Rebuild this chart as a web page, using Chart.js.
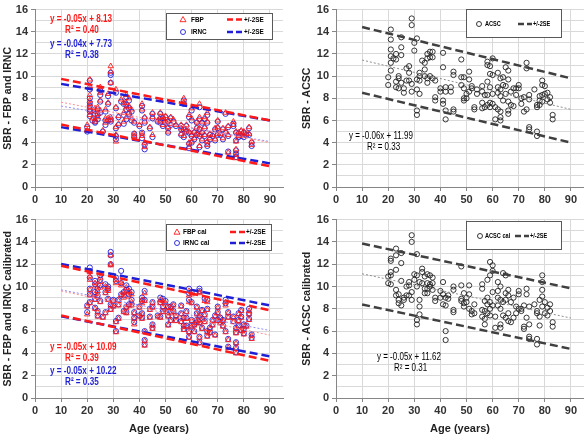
<!DOCTYPE html>
<html>
<head>
<meta charset="utf-8">
<script src="https://cdn.jsdelivr.net/npm/chart.js@4.4.1/dist/chart.umd.min.js"></script>
<style>
  html, body { margin: 0; padding: 0; background: #fff; overflow: hidden; }
  #wrap { position: relative; width: 584px; height: 435px; }
  canvas { position: absolute; }
</style>
</head>
<body>
<div id="wrap">
  <canvas id="tl" width="292" height="210" style="left:0;top:0"></canvas>
  <canvas id="tr" width="292" height="210" style="left:292px;top:0"></canvas>
  <canvas id="bl" width="292" height="226" style="left:0;top:210px"></canvas>
  <canvas id="br" width="292" height="226" style="left:292px;top:210px"></canvas>
</div>
<script>
// ---- data ----
const fitX = [10, 90];

// top left: raw FBP and IRNC
const tlAges = [
  20,20,21,21,21,21,21,21,21,21,22,23,23,23,23,24,24,24,25,25,25,25,26,27,27,27,28,28,28,29,29,29,29,29,
  31,31,31,31,31,32,32,33,34,34,34,35,35,35,35,36,36,36,37,37,38,38,38,
  40,41,41,41,41,42,42,42,42,44,45,45,45,47,48,48,48,49,49,49,
  50,50,51,51,51,52,52,53,54,56,56,56,57,57,57,57,58,58,59,59,59,59,
  60,60,60,60,61,61,62,62,62,63,63,63,63,63,64,64,64,65,65,65,66,66,66,66,67,67,68,69,69,
  70,70,70,71,72,72,73,73,74,74,74,76,76,77,77,77,77,77,78,78,79,79,80,80,81,82,82,83,83
];
const fbp = [
  5.6,5.1,9.7,9.1,8.3,7.8,7.2,6.9,6.5,7.5,6.2,7.1,6.8,6.1,5.9,7.2,6.6,6.3,9.0,8.5,7.8,6.9,5.1,7.0,6.2,5.8,8.4,7.6,6.2,10.9,10.4,9.4,6.3,6.0,
  8.8,7.2,5.4,4.7,4.1,6.4,5.7,7.9,7.6,6.7,5.9,8.3,7.6,7.2,6.3,8.0,7.3,6.7,7.0,6.2,5.9,4.8,4.6,
  5.6,7.5,7.0,4.8,4.6,6.3,5.9,4.0,3.6,5.4,6.7,6.3,4.7,6.0,6.7,6.3,5.9,6.3,6.0,5.6,
  6.4,5.9,6.0,5.4,5.0,6.3,5.7,6.1,5.6,5.6,5.3,4.8,8.0,7.6,5.3,4.6,5.6,5.1,6.5,5.0,4.0,3.6,
  7.1,6.2,4.7,4.1,5.0,4.4,5.9,5.4,4.8,7.5,6.3,5.3,4.7,3.7,5.9,5.0,4.3,6.3,5.4,4.7,6.7,5.9,4.1,3.8,4.8,4.4,4.7,5.3,4.3,
  6.0,5.4,4.8,4.8,5.3,4.4,6.7,5.0,5.5,4.7,3.1,5.9,5.6,5.0,4.1,3.4,2.9,2.6,4.9,4.6,5.1,4.7,5.0,4.6,4.8,5.4,4.8,4.1,3.8
];
const irnc = [
  5.4,5.0,9.6,8.8,8.0,7.6,7.0,6.8,6.4,7.3,6.0,6.9,6.6,5.9,5.8,7.0,6.5,6.1,8.7,8.3,7.7,6.7,5.0,6.8,6.0,5.6,8.2,7.5,6.0,10.3,10.1,9.4,6.1,5.9,
  8.5,7.1,5.3,4.6,4.3,6.3,5.6,7.7,7.5,6.5,5.7,8.1,7.4,7.0,6.1,7.8,7.1,6.6,6.8,6.0,5.8,4.8,4.5,
  5.5,7.3,6.9,4.9,4.4,6.2,5.8,3.8,3.4,5.3,6.6,6.2,4.5,5.9,6.6,6.1,5.8,6.2,5.9,5.5,
  6.3,5.8,5.9,5.3,4.9,6.2,5.6,5.9,5.5,5.5,5.2,4.7,7.8,7.5,5.2,4.5,5.5,5.0,6.3,4.9,3.9,3.5,
  6.9,6.0,4.6,4.0,4.9,4.3,5.8,5.3,4.7,7.2,6.1,5.2,4.6,3.6,5.8,4.9,4.2,6.1,5.3,4.6,6.5,5.8,4.0,3.7,4.7,4.3,4.6,5.2,4.2,
  5.9,5.3,4.7,4.7,5.2,4.3,6.6,4.9,5.4,4.6,3.2,5.7,5.5,4.9,4.2,3.3,3.0,2.7,4.8,4.5,5.0,4.6,4.9,4.5,4.7,5.3,4.7,4.0,3.7
];
const fbpFit = [7.65, 4.0], fbpUp = [9.75, 6.0], fbpLo = [5.63, 1.87];
const irncFit = [7.3, 4.1], irncUp = [9.3, 6.0], irncLo = [5.4, 2.13];

// top right: raw ACSC
const trAges = [
  20,20,21,21,21,21,21,21,22,23,23,23,23,24,24,24,25,25,25,25,26,26,27,27,28,28,28,29,29,29,29,
  30,30,31,31,31,31,31,32,32,32,32,33,34,34,34,35,35,35,35,36,36,36,37,37,37,38,38,38,
  40,40,41,41,41,41,42,42,42,42,44,44,45,45,45,45,48,48,48,49,49,49,49,
  50,50,51,51,51,52,52,53,53,54,54,56,56,56,56,57,57,58,58,58,58,58,59,59,59,59,59,
  60,60,60,60,61,61,62,62,62,62,63,63,63,63,63,63,64,64,64,65,65,65,66,66,66,66,66,67,67,68,68,69,69,
  70,70,71,71,72,72,73,73,73,74,74,74,74,76,77,77,77,77,78,78,78,79,79,79,79,80,80,81,81,82,82,83,83
];
const acsc = [
  9.2,9.9,14.2,13.3,12.4,11.8,11.2,10.5,11.6,12.0,11.5,9.5,9.0,10.0,9.8,8.9,13.5,12.6,11.9,9.4,8.9,8.5,10.7,9.6,10.9,10.3,9.6,15.2,14.6,9.3,8.6,
  13.0,12.3,13.4,9.7,8.8,6.9,6.5,10.3,10.0,9.6,8.4,11.4,11.2,10.6,10.0,12.0,11.6,9.8,9.4,12.2,11.7,10.0,12.2,11.7,9.8,9.6,8.1,7.8,
  8.6,8.9,12.1,10.8,7.8,7.5,9.0,8.6,6.9,6.1,9.0,8.6,10.4,10.1,7.0,6.8,11.5,9.9,9.2,9.9,8.9,8.0,7.8,
  8.4,8.0,10.4,9.7,8.6,9.1,8.9,7.2,7.0,8.8,8.4,9.1,8.6,7.6,7.1,8.3,7.2,11.3,11.0,9.5,8.3,7.4,10.9,10.2,9.0,7.6,7.2,
  11.6,10.1,8.4,7.5,7.2,6.1,10.3,9.0,8.5,7.0,9.8,8.8,8.2,6.8,6.3,6.0,9.9,9.2,7.8,10.8,9.1,8.4,10.5,9.7,7.7,6.9,6.6,8.6,7.4,8.9,7.3,8.9,8.3,
  9.2,8.9,8.0,7.5,8.1,6.8,11.2,10.7,7.0,8.3,7.9,5.4,5.2,8.8,7.4,7.2,5.0,4.6,8.2,7.8,7.4,9.6,9.2,8.3,7.7,9.1,8.4,8.5,7.9,8.1,7.6,6.5,6.1
];
const acscFit = [11.45, 7.0], acscUp = [14.43, 9.8], acscLo = [8.5, 4.0];

// bottom left: calibrated FBP and IRNC
const blAges = [
  20,20,21,21,21,21,21,21,23,23,23,23,23,24,24,24,24,25,25,25,25,26,27,27,27,28,28,28,29,29,29,29,29,
  30,30,31,31,31,31,32,32,32,33,33,33,34,34,34,35,35,35,35,36,36,36,37,37,37,38,38,38,
  40,40,41,41,41,41,42,42,42,42,42,44,44,45,45,45,45,47,48,48,48,49,49,49,
  50,50,51,51,51,52,52,52,53,53,54,54,56,56,56,57,57,57,58,58,58,59,59,59,59,59,
  60,60,60,60,61,61,62,62,62,62,63,63,63,63,63,63,64,64,64,65,65,65,66,66,66,66,67,67,68,68,69,69,
  70,70,70,71,71,72,72,73,73,73,74,74,74,74,76,76,77,77,77,77,77,78,78,78,79,79,79,80,80,80,81,82,82,82,83,83
];
const fbpCal = [
  7.5,8.2,11.3,10.9,10.6,9.7,9.2,8.5,10.3,10.0,9.3,8.8,8.0,9.6,9.1,7.7,7.3,10.8,10.4,9.9,8.6,7.2,10.0,9.4,7.6,9.8,9.6,8.8,12.8,12.0,11.9,8.3,7.9,
  8.7,8.2,10.6,10.3,6.8,5.9,8.7,8.3,7.1,10.3,10.1,9.2,9.4,9.0,7.7,9.9,9.5,8.1,7.6,9.6,9.1,8.3,9.3,8.6,8.3,7.6,7.1,6.6,
  8.1,7.3,8.8,8.5,7.5,7.1,9.4,8.7,5.9,5.1,4.7,7.9,7.2,8.5,8.1,6.5,6.2,7.3,8.8,8.5,7.2,8.7,8.1,7.7,
  8.5,7.7,8.1,7.3,6.5,8.1,7.6,6.9,8.3,7.7,7.3,6.9,8.2,7.5,6.8,7.1,6.4,6.1,7.7,7.1,6.4,9.6,9.2,8.6,5.9,5.4,
  9.3,8.5,6.9,6.4,6.5,5.9,8.1,7.5,6.9,6.7,9.5,9.4,7.3,6.7,5.4,4.9,7.8,7.0,6.2,8.7,7.4,6.8,8.6,7.9,5.9,5.5,6.2,5.8,6.9,6.5,7.3,5.6,
  8.1,7.6,6.9,7.1,6.7,6.9,6.4,8.6,8.3,5.9,7.6,7.2,5.2,4.5,7.2,6.8,6.2,5.8,4.9,4.4,4.0,7.5,6.9,6.4,7.8,7.2,6.0,6.5,6.1,5.7,6.4,7.8,7.5,7.0,5.6,5.3
];
const irncCal = [
  7.7,8.3,11.7,11.4,10.8,9.8,9.3,8.6,10.5,10.2,9.5,8.9,8.1,9.8,9.2,7.8,7.4,11.0,10.6,10.1,8.7,7.3,10.2,9.5,7.7,10.0,9.8,8.9,13.1,12.8,12.0,8.4,8.0,
  8.8,8.3,10.8,10.5,6.9,6.0,8.8,8.4,7.2,11.4,10.3,9.3,9.5,9.2,7.8,10.1,9.7,8.2,7.7,9.8,9.3,8.4,9.5,8.8,8.4,7.7,7.2,6.8,
  8.2,7.4,9.0,8.7,7.6,7.2,9.6,8.8,6.0,5.2,4.8,8.0,7.3,8.6,8.2,6.6,6.3,7.4,9.0,8.6,7.3,8.9,8.2,7.8,
  8.7,7.8,8.2,7.4,6.6,8.2,7.7,7.0,8.4,7.8,7.4,7.0,8.3,7.6,6.9,7.2,6.5,6.2,7.8,7.2,6.5,9.8,9.4,8.8,6.0,5.5,
  9.5,8.6,7.0,6.5,6.6,6.0,8.2,7.6,7.0,6.8,9.8,9.6,7.4,6.8,5.5,5.0,7.9,7.1,6.3,8.9,7.5,6.9,8.8,8.0,6.0,5.6,6.3,5.9,7.0,6.6,7.4,5.7,
  8.2,7.7,7.0,7.2,6.8,7.0,6.5,8.8,8.5,6.0,7.7,7.3,5.3,4.6,7.3,6.9,6.3,5.9,5.0,4.5,4.1,7.6,7.0,6.5,7.9,7.3,6.1,6.6,6.2,5.8,6.5,8.0,7.6,7.1,5.7,5.4
];
const fbpCalFit = [9.6, 5.64], fbpCalUp = [11.86, 7.87], fbpCalLo = [7.4, 3.33];
const irncCalFit = [9.7, 6.05], irncCalUp = [12.03, 8.3], irncCalLo = [7.32, 3.73];

// bottom right: calibrated ACSC
const brAges = [
  20,20,21,21,21,21,21,23,23,23,23,23,24,24,24,25,25,25,25,26,26,27,27,28,28,28,29,29,29,29,
  30,30,31,31,31,31,31,32,32,32,32,33,33,33,34,34,34,35,35,35,35,36,36,36,37,37,37,38,38,
  40,40,41,41,41,42,42,42,42,43,43,45,45,45,45,48,48,48,48,49,49,49,
  50,50,51,51,51,52,52,53,53,56,56,56,56,57,57,57,57,58,58,58,58,59,59,59,59,59,
  60,60,60,60,61,61,62,62,62,62,63,63,63,63,63,64,64,64,65,65,65,65,66,66,66,66,67,67,68,68,69,69,
  70,70,70,71,71,72,72,72,73,73,73,74,74,74,74,76,77,77,77,77,78,78,78,79,79,79,79,79,80,80,81,81,82,82,83,83
];
const acscCal = [
  10.3,10.9,12.5,12.3,11.3,11.0,10.2,13.4,12.8,11.5,9.7,9.2,9.3,8.8,8.5,13.0,12.1,10.5,8.3,9.0,8.8,10.0,9.2,10.4,10.1,9.2,14.6,14.0,9.5,8.8,
  11.1,10.6,12.9,11.0,10.0,7.0,6.6,10.4,8.8,8.2,7.5,11.6,11.3,10.3,10.9,9.8,9.4,11.1,10.3,9.8,9.4,11.0,10.2,10.0,10.8,10.3,9.7,9.0,8.7,
  9.6,9.0,10.4,9.3,8.4,9.0,8.3,6.0,5.2,9.2,8.9,10.0,9.7,7.9,7.7,11.8,10.1,8.9,8.7,9.4,8.5,8.2,
  9.0,8.6,10.1,9.3,8.0,7.8,7.5,8.4,7.6,10.2,9.8,7.9,7.3,8.7,7.8,7.1,6.6,10.6,9.0,8.4,7.6,12.2,11.0,8.6,8.0,7.4,
  11.9,11.4,9.5,8.3,7.3,6.3,10.4,9.6,9.0,8.3,10.0,8.8,8.0,6.6,6.3,11.2,8.6,7.4,11.0,9.4,8.8,7.2,9.7,9.2,7.6,6.9,8.6,6.8,9.0,7.2,8.2,7.6,
  9.6,9.3,8.0,8.0,7.8,8.3,6.4,6.2,9.8,9.3,7.2,8.2,6.6,5.5,5.3,8.4,7.8,7.6,5.3,4.8,8.8,7.3,6.5,11.0,10.4,9.7,9.1,8.2,8.6,7.6,8.1,7.4,8.4,7.8,6.8,6.4
];
const acscCalFit = [11.14, 7.17], acscCalUp = [13.85, 9.83], acscCalLo = [8.39, 4.4];

// ---- styling ----
const FONT = "'Liberation Sans', Arial, sans-serif";
const RED = '#ff1a1a';
const BLUE = '#1f1fd6';
const GRID = '#d9d9d9';
const AXIS = '#868686';

// text and legend boxes, in canvas pixels of each panel
const notes = {
  tl: {
    eq: [
      { text: 'y = -0.05x + 8.13', x: 50, y: 19, color: RED, bold: true },
      { text: 'R\u00b2 = 0.40', x: 65, y: 30, color: RED, bold: true },
      { text: 'y = -0.04x + 7.73', x: 50, y: 44, color: BLUE, bold: true },
      { text: 'R\u00b2 = 0.38', x: 65, y: 55, color: BLUE, bold: true }
    ],
    box: { x: 166, y: 13, w: 106, h: 26 },
    legendSize: 8,
    rows: [
      { mark: 'triangle', color: RED, label: 'FBP', y: 19.5 },
      { mark: 'circle', color: BLUE, label: 'IRNC', y: 32 }
    ],
    mx: 183, tx: 191, l1: 227, l2: 243
  },
  tr: {
    eq: [
      { text: 'y = -0.06x + 11.99', x: 57, y: 136, color: '#000' },
      { text: 'R\u00b2 = 0.33', x: 75, y: 147, color: '#000' }
    ],
    box: { x: 174, y: 9, w: 95, h: 28 },
    legendSize: 7,
    rows: [{ mark: 'circle', color: '#222', label: 'ACSC', y: 24, line: '#404040' }],
    mx: 187, tx: 193, l1: 226, l2: 240
  },
  bl: {
    eq: [
      { text: 'y = -0.05x + 10.09', x: 50, y: 137, color: RED, bold: true },
      { text: 'R\u00b2 = 0.39', x: 65, y: 148, color: RED, bold: true },
      { text: 'y = -0.05x + 10.22', x: 50, y: 161, color: BLUE, bold: true },
      { text: 'R\u00b2 = 0.35', x: 65, y: 171.5, color: BLUE, bold: true }
    ],
    box: { x: 166, y: 14, w: 105, h: 26 },
    legendSize: 8,
    rows: [
      { mark: 'triangle', color: RED, label: 'FBP cal', y: 22 },
      { mark: 'circle', color: BLUE, label: 'IRNC cal', y: 33 }
    ],
    mx: 177, tx: 183, l1: 230, l2: 245
  },
  br: {
    eq: [
      { text: 'y = -0.05x + 11.62', x: 85, y: 147, color: '#000' },
      { text: 'R\u00b2 = 0.31', x: 102, y: 158.5, color: '#000' }
    ],
    box: { x: 174, y: 11, w: 95, h: 28 },
    legendSize: 7,
    rows: [{ mark: 'circle', color: '#222', label: 'ACSC cal', y: 26, line: '#404040' }],
    mx: 188, tx: 193, l1: 223, l2: 237
  }
};

function drawMark(c, mark, x, y, color) {
  c.strokeStyle = color;
  c.lineWidth = 0.9;
  c.beginPath();
  if (mark === 'triangle') {
    c.moveTo(x, y - 3);
    c.lineTo(x + 3, y + 2.2);
    c.lineTo(x - 3, y + 2.2);
    c.closePath();
  } else {
    c.arc(x, y, 2.5, 0, Math.PI * 2);
  }
  c.stroke();
}

// Calibri is narrower than what we have, so squeeze the text a bit
function narrowText(c, text, x, y, sx) {
  c.save();
  c.translate(x, y);
  c.scale(sx, 1);
  c.fillText(text, 0, 0);
  c.restore();
}

// equation labels and the boxed legend
const notesPlugin = {
  id: 'notes',
  afterDatasetsDraw(chart) {
    const n = notes[chart.canvas.id];
    if (!n) return;
    const c = chart.ctx;
    c.save();
    c.textBaseline = 'middle';
    c.textAlign = 'left';
    n.eq.forEach(e => {
      c.font = e.bold ? 'bold 11px ' + FONT : '10px ' + FONT;
      c.fillStyle = e.color;
      narrowText(c, e.text, e.x, e.y, e.bold ? 0.74 : 0.8);
    });

    const b = n.box;
    c.fillStyle = '#fff';
    c.fillRect(b.x, b.y, b.w, b.h);
    c.strokeStyle = '#595959';
    c.lineWidth = 1;
    c.strokeRect(b.x + 0.5, b.y + 0.5, b.w, b.h);

    c.font = 'bold ' + n.legendSize + 'px ' + FONT;
    n.rows.forEach(r => {
      drawMark(c, r.mark, n.mx, r.y, r.color);
      c.fillStyle = '#000';
      narrowText(c, r.label, n.tx, r.y, 0.8);
      c.strokeStyle = r.line || r.color;
      c.lineWidth = 2.5;
      c.setLineDash([6, 3]);
      c.beginPath();
      c.moveTo(n.l1, r.y);
      c.lineTo(n.l2, r.y);
      c.stroke();
      c.setLineDash([]);
      c.fillStyle = '#000';
      narrowText(c, '+/-2SE', n.l2 + 1, r.y, 0.8);
    });
    c.restore();
  }
};

function pts(ages, vals) {
  return ages.map((a, i) => ({ x: a, y: vals[i] }));
}

function scatterSet(ages, vals, color, style, order) {
  return {
    type: 'scatter',
    data: pts(ages, vals),
    pointStyle: style,
    pointRadius: style === 'triangle' ? 3.1 : 2.6,
    borderColor: color,
    backgroundColor: 'transparent',
    pointBorderWidth: 0.9,
    order: order
  };
}

function lineSet(vals, color, kind) {
  const isFit = kind === 'fit';
  return {
    type: 'line',
    data: pts(fitX, vals),
    borderColor: color,
    borderWidth: isFit ? 1 : 2.5,
    borderDash: isFit ? [2, 2] : [8, 4],
    pointRadius: 0,
    fill: false,
    order: 0
  };
}

function makePanel(id, cfg) {
  const tickFont = { family: FONT, size: 11, weight: 'bold' };
  return new Chart(document.getElementById(id), {
    type: 'scatter',
    data: { datasets: cfg.datasets },
    options: {
      responsive: false,
      animation: false,
      events: [],
      layout: { autoPadding: false, padding: cfg.padding },
      plugins: { legend: { display: false }, tooltip: { enabled: false } },
      scales: {
        x: {
          type: 'linear',
          min: 0,
          max: 95,
          afterFit: s => { s.height = cfg.xHeight; },
          ticks: { stepSize: 10, includeBounds: false, color: '#333', font: tickFont, padding: 2, maxRotation: 0 },
          grid: { color: GRID, tickLength: 4, tickColor: AXIS },
          border: { color: AXIS },
          title: {
            display: !!cfg.xTitle,
            text: cfg.xTitle || '',
            color: '#222',
            font: { family: FONT, size: 11, weight: 'bold' },
            padding: { top: 0, bottom: 0 }
          }
        },
        y: {
          min: 0,
          max: 16,
          afterFit: s => { s.width = cfg.yWidth; },
          ticks: {
            stepSize: 1,
            autoSkip: false,
            color: '#333',
            font: tickFont,
            padding: 3,
            callback: v => (v % 2 === 0 ? v : '')
          },
          grid: {
            color: GRID,
            tickLength: 4,
            tickColor: c => (c.tick && c.tick.value % 2 === 0 ? AXIS : 'transparent')
          },
          border: { color: AXIS },
          title: {
            display: true,
            text: cfg.yTitle,
            color: '#222',
            font: { family: FONT, size: 10.5, weight: 'bold' },
            padding: { top: cfg.yTitlePad, bottom: 0 }
          }
        }
      }
    },
    plugins: [notesPlugin]
  });
}

makePanel('tl', {
  padding: { top: 4, right: 9, left: 0, bottom: 0 },
  xHeight: 23, yWidth: 35, yTitlePad: 2,
  yTitle: 'SBR - FBP and IRNC',
  datasets: [
    lineSet(fbpFit, '#ff8c8c', 'fit'),
    lineSet(irncFit, '#8c8cff', 'fit'),
    lineSet(fbpUp, RED), lineSet(fbpLo, RED),
    lineSet(irncUp, BLUE), lineSet(irncLo, BLUE),
    scatterSet(tlAges, irnc, BLUE, 'circle', 2),
    scatterSet(tlAges, fbp, RED, 'triangle', 1)
  ]
});

makePanel('tr', {
  padding: { top: 4, right: 0, left: 0, bottom: 0 },
  xHeight: 23, yWidth: 44, yTitlePad: 9,
  yTitle: 'SBR - ACSC',
  datasets: [
    lineSet(acscFit, '#8c8c8c', 'fit'),
    lineSet(acscUp, '#404040'), lineSet(acscLo, '#404040'),
    scatterSet(trAges, acsc, '#222', 'circle', 1)
  ]
});

makePanel('bl', {
  padding: { top: 5, right: 9, left: 0, bottom: 0 },
  xHeight: 38, yWidth: 35, yTitlePad: 2,
  yTitle: 'SBR - FBP and IRNC calibrated',
  xTitle: 'Age (years)',
  datasets: [
    lineSet(fbpCalFit, '#ff8c8c', 'fit'),
    lineSet(irncCalFit, '#8c8cff', 'fit'),
    lineSet(fbpCalUp, RED), lineSet(fbpCalLo, RED),
    lineSet(irncCalUp, BLUE), lineSet(irncCalLo, BLUE),
    scatterSet(blAges, irncCal, BLUE, 'circle', 2),
    scatterSet(blAges, fbpCal, RED, 'triangle', 1)
  ]
});

makePanel('br', {
  padding: { top: 5, right: 0, left: 0, bottom: 0 },
  xHeight: 38, yWidth: 44, yTitlePad: 9,
  yTitle: 'SBR - ACSC calibrated',
  xTitle: 'Age (years)',
  datasets: [
    lineSet(acscCalFit, '#8c8c8c', 'fit'),
    lineSet(acscCalUp, '#404040'), lineSet(acscCalLo, '#404040'),
    scatterSet(brAges, acscCal, '#222', 'circle', 1)
  ]
});
</script>
</body>
</html>
